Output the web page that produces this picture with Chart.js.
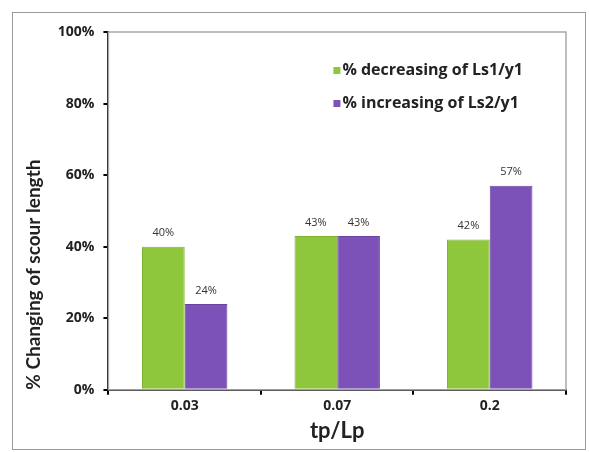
<!DOCTYPE html>
<html>
<head>
<meta charset="utf-8">
<script src="https://cdn.jsdelivr.net/npm/chart.js@4.4.0/dist/chart.umd.min.js"></script>
<style>
  html, body { margin: 0; padding: 0; background: #fff; }
  #frame {
    position: absolute; left: 12px; top: 12px;
    width: 572px; height: 436px;
    border: 1px solid #9a9a9a;
  }
</style>
</head>
<body>
<div id="frame"><canvas id="chart" width="572" height="436"></canvas></div>
<script>
// ── Data ────────────────────────────────────────────────────────────
const categories = ['0.03', '0.07', '0.2'];
const decreasingLs1 = [40, 43, 42];
const increasingLs2 = [24, 43, 57];
const seriesNames = ['% decreasing of Ls1/y1', '% increasing of Ls2/y1'];
const yTicks = [0, 20, 40, 60, 80, 100];

const GREEN = '#8ec63c';
const PURPLE = '#7d52b8';
const FONT = 'Lato, "Open Sans", sans-serif';
const WIDE = '"Open Sans", Lato, sans-serif';

// light frame on top/right of plot area
const plotFrame = {
  id: 'plotFrame',
  beforeDatasetsDraw(chart) {
    const { left, right, top, bottom } = chart.chartArea;
    const ctx = chart.ctx;
    ctx.save();
    ctx.strokeStyle = '#a8a8a8';
    ctx.lineWidth = 1.5;
    ctx.strokeRect(left, top, right - left, bottom - top);
    ctx.restore();
  }
};

// value labels above bars + in-plot legend
const barLabels = {
  id: 'barLabels',
  afterDatasetsDraw(chart) {
    const ctx = chart.ctx;
    ctx.save();
    ctx.font = '11px ' + WIDE;
    ctx.fillStyle = '#333';
    ctx.textAlign = 'center';
    ctx.textBaseline = 'bottom';
    chart.data.datasets.forEach((ds, i) => {
      chart.getDatasetMeta(i).data.forEach((bar, j) => {
        ctx.fillText(ds.data[j] + '%', bar.x, bar.y - 8);
      });
    });

    // legend
    const lx = chart.chartArea.left + 225;
    const rows = [chart.chartArea.top + 38, chart.chartArea.top + 71];
    ctx.font = 'bold 16px ' + WIDE;
    ctx.textAlign = 'left';
    ctx.textBaseline = 'middle';
    chart.data.datasets.forEach((ds, i) => {
      ctx.fillStyle = ds.backgroundColor;
      ctx.fillRect(lx, rows[i] - 3, 7, 7);
      ctx.fillStyle = '#222';
      ctx.fillText(ds.label, lx + 9, rows[i]);
    });
    ctx.restore();
  }
};

new Chart(document.getElementById('chart'), {
  type: 'bar',
  data: {
    labels: categories,
    datasets: [
      { label: seriesNames[0], data: decreasingLs1, backgroundColor: GREEN,
        borderColor: '#7fb232', borderWidth: 1 },
      { label: seriesNames[1], data: increasingLs2, backgroundColor: PURPLE,
        borderColor: '#6a43a0', borderWidth: 1 },
    ],
  },
  options: {
    responsive: false,
    animation: false,
    datasets: { bar: { categoryPercentage: 0.56, barPercentage: 1 } },
    layout: { padding: { top: 19, right: 19, left: 5, bottom: 1 } },
    scales: {
      y: {
        min: 0, max: 100,
        afterBuildTicks: axis => { axis.ticks = yTicks.map(v => ({ value: v })); },
        ticks: {
          callback: v => v + '%',
          color: '#222',
          font: { family: WIDE, size: 14, weight: 'bold' },
          padding: 9,
        },
        grid: { drawOnChartArea: false, drawTicks: true, tickLength: 5, color: '#000', lineWidth: 2 },
        border: { color: '#000', width: 2 },
        title: {
          display: true,
          align: 'start',
          text: '% Changing of scour length',
          color: '#222',
          font: { family: FONT, size: 19, weight: 'bold' },
          padding: { top: 4, bottom: 4 },
        },
      },
      x: {
        ticks: {
          color: '#222',
          font: { family: WIDE, size: 14, weight: 'bold' },
          padding: 3,
        },
        grid: { drawOnChartArea: false, drawTicks: true, tickLength: 5, color: '#000', lineWidth: 2 },
        border: { color: '#000', width: 2 },
        title: {
          display: true,
          text: 'tp/Lp',
          color: '#222',
          font: { family: FONT, size: 22, weight: 'bold' },
          padding: { top: 0 },
        },
      },
    },
    plugins: {
      legend: { display: false },
      tooltip: { enabled: false },
    },
  },
  plugins: [plotFrame, barLabels],
});
</script>
</body>
</html>
